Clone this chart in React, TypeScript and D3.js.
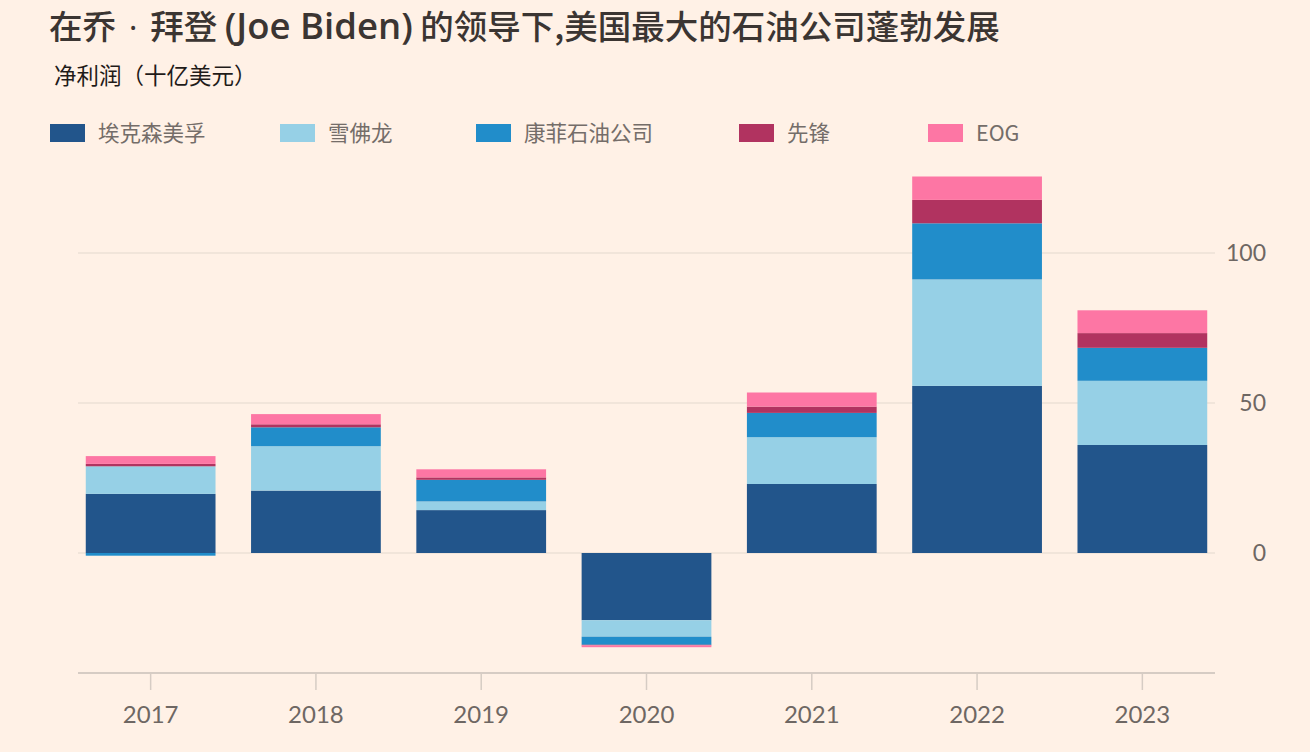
import React from 'react';
import * as d3 from 'd3';

const years = ['2017', '2018', '2019', '2020', '2021', '2022', '2023'];
const exxon = [19.7, 20.8, 14.3, -22.4, 23.0, 55.7, 36.0];
const chevron = [9.2, 14.8, 2.9, -5.5, 15.6, 35.5, 21.4];
const conoco = [-0.9, 6.3, 7.2, -2.7, 8.1, 18.7, 11.0];
const pioneer = [0.8, 1.0, 0.8, -0.2, 2.1, 7.8, 4.9];
const eog = [2.6, 3.4, 2.7, -0.6, 4.7, 7.8, 7.6];

const seriesNames = ['埃克森美孚', '雪佛龙', '康菲石油公司', '先锋', 'EOG'];
const seriesKeys = ['exxon', 'chevron', 'conoco', 'pioneer', 'eog'];
const seriesColors = ['#22558b', '#96d0e6', '#218dca', '#b13360', '#fd76a4'];
const yTicks = [0, 50, 100];

const titleParts = ['在乔', ' · ', '拜登 ', '(Joe Biden)', ' 的领导下,美国最大的石油公司蓬勃发展'];
const subtitleText = '净利润（十亿美元）';

const W = 1310;
const H = 752;
const legendX = [50, 280, 476, 739, 928];

export default function App() {
  const table = years.map((y, i) => ({
    year: y,
    exxon: exxon[i],
    chevron: chevron[i],
    conoco: conoco[i],
    pioneer: pioneer[i],
    eog: eog[i],
  }));
  const stacked = d3
    .stack<any>()
    .keys(seriesKeys)
    .offset(d3.stackOffsetDiverging)(table);

  const x = d3
    .scaleBand()
    .domain(years)
    .range([68, 1225])
    .paddingInner(0.215)
    .paddingOuter(0.1075);
  const y = d3.scaleLinear().domain([-40, 130]).range([673, 163]);

  const gridX0 = 78;
  const gridX1 = 1215;
  const font = 'Lato, "Noto Sans CJK SC", sans-serif';
  const cjk = '"Noto Sans CJK SC", Lato, sans-serif';
  const latin = '"Open Sans", Lato, sans-serif';

  return (
    <svg
      width={W}
      height={H}
      style={{ position: 'absolute', left: 0, top: 0, display: 'block' }}
    >
      <rect x={0} y={0} width={W} height={H} fill="#fff1e6" />
      <text x={49} y={39} fontSize={33.5} fontWeight={500} fill="#3b3532" fontFamily={cjk}>
        <tspan fontFamily={cjk}>{titleParts[0]}</tspan>
        <tspan fontFamily={latin} dx={4}>{titleParts[1]}</tspan>
        <tspan fontFamily={cjk} dx={4}>{titleParts[2]}</tspan>
        <tspan fontFamily={latin} fontSize={36.5} fontWeight={600}>{titleParts[3]}</tspan>
        <tspan fontFamily={cjk}>{titleParts[4]}</tspan>
      </text>
      <text x={54} y={84} fontFamily={cjk} fontSize={22.5} fill="#1f1b19">
        {subtitleText}
      </text>
      {seriesNames.map((n, i) => (
        <g key={n}>
          <rect x={legendX[i]} y={124} width={35} height={18} fill={seriesColors[i]} />
          <text
            x={legendX[i] + 48}
            y={141}
            fontFamily={cjk}
            fontSize={21.5}
            fill="#746d69"
          >
            {n}
          </text>
        </g>
      ))}
      {yTicks.map((t) => (
        <g key={t}>
          <line x1={gridX0} x2={gridX1} y1={y(t)} y2={y(t)} stroke="#ece0d6" strokeWidth={1.5} />
          <text
            x={1266}
            y={y(t) + 8}
            textAnchor="end"
            fontFamily={font}
            fontSize={23}
            fill="#6e6763"
          >
            {t}
          </text>
        </g>
      ))}
      {stacked.map((s, si) => (
        <g key={s.key} fill={seriesColors[si]}>
          {s.map((d, i) => {
            const y0 = y(d[0]);
            const y1 = y(d[1]);
            return (
              <rect
                key={i}
                x={x(years[i])}
                width={x.bandwidth()}
                y={Math.min(y0, y1)}
                height={Math.abs(y1 - y0)}
              />
            );
          })}
        </g>
      ))}
      <line x1={gridX0} x2={gridX1} y1={y(-40)} y2={y(-40)} stroke="#d6ccc4" strokeWidth={2} />
      {years.map((yr) => {
        const cx = (x(yr) as number) + x.bandwidth() / 2;
        return (
          <g key={yr}>
            <line x1={cx} x2={cx} y1={y(-40)} y2={y(-40) + 17} stroke="#d6ccc4" strokeWidth={1.5} />
            <text
              x={cx}
              y={723}
              textAnchor="middle"
              fontFamily={font}
              fontSize={24}
              fill="#6e6763"
            >
              {yr}
            </text>
          </g>
        );
      })}
    </svg>
  );
}
